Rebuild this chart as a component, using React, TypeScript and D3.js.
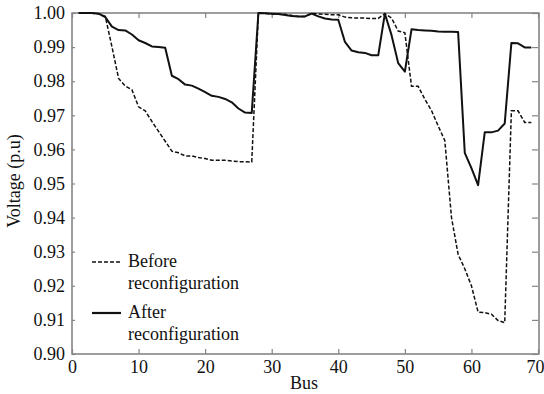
import React, { useEffect, useRef } from "react";
import * as d3 from "d3";

// bus numbers 1..69
const buses = d3.range(1, 70);

const before = [
  1.0, 1.0, 0.9999, 0.9998, 0.999, 0.9901, 0.9808, 0.9786, 0.9775, 0.9725,
  0.9713, 0.9682, 0.9653, 0.9624, 0.9595, 0.959, 0.9581, 0.9581, 0.9576, 0.9573,
  0.9568, 0.9568, 0.9568, 0.9566, 0.9564, 0.9564, 0.9563, 0.9999, 0.9999, 0.9997,
  0.9997, 0.9996, 0.9993, 0.999, 0.999, 0.9999, 0.9997, 0.9996, 0.9995, 0.9995,
  0.9988, 0.9986, 0.9985, 0.9985, 0.9984, 0.9984, 0.9998, 0.9985, 0.9947, 0.9942,
  0.9785, 0.9785, 0.9747, 0.9714, 0.9669, 0.9626, 0.9401, 0.9292, 0.925, 0.92,
  0.9123, 0.9121, 0.9117, 0.9098, 0.9092, 0.9713, 0.9713, 0.9679, 0.9679,
];

const after = [
  1.0, 1.0, 1.0, 0.9998, 0.9988, 0.996, 0.995, 0.9949, 0.9937, 0.992,
  0.9912, 0.9902, 0.99, 0.9898, 0.9816, 0.9806, 0.979, 0.9787, 0.9778, 0.9768,
  0.9757, 0.9754, 0.9748, 0.9738, 0.972, 0.9708, 0.9707, 1.0, 0.9999, 0.9998,
  0.9997, 0.9994, 0.9991, 0.999, 0.999, 0.9998, 0.999, 0.9984, 0.9981, 0.998,
  0.9915, 0.989, 0.9885, 0.9883, 0.9876, 0.9876, 0.9998, 0.9935, 0.9853, 0.9828,
  0.9952, 0.995, 0.9949, 0.9948, 0.9946, 0.9945, 0.9945, 0.9944, 0.959, 0.9545,
  0.9495, 0.965, 0.965, 0.9655, 0.9676, 0.9912, 0.9911, 0.9899, 0.9899,
];

const xTicks = [0, 10, 20, 30, 40, 50, 60, 70];
const yTicks = d3.range(0, 11).map((i) => +(0.9 + i * 0.01).toFixed(2));

const legendItems = [
  { label: ["Before", "reconfiguration"], dash: "4,2", width: 1.5 },
  { label: ["After", "reconfiguration"], dash: null, width: 2.2 },
];

const W = 544;
const H = 394;
const left = 72;
const right = 538;
const top = 13;
const bottom = 354;
const font = "Liberation Serif, Tinos, Times New Roman, DejaVu Serif, serif";
const frameColor = "#858585";

export default function App() {
  const svgRef = useRef<SVGSVGElement>(null);

  useEffect(() => {
    const svg = d3.select(svgRef.current);
    svg.selectAll("*").remove();

    const x = d3.scaleLinear().domain([0, 70]).range([left, right]);
    const y = d3.scaleLinear().domain([0.9, 1.0]).range([bottom, top]);

    const styleAxis = (g: any) => {
      g.attr("font-family", font).attr("font-size", 18);
      g.select(".domain").remove();
      g.selectAll(".tick line").attr("stroke", frameColor).attr("stroke-width", 1.2);
      g.selectAll(".tick text").attr("fill", "#111");
    };

    const xAxisG = svg
      .append("g")
      .attr("transform", `translate(0,${bottom})`)
      .call(d3.axisBottom(x).tickValues(xTicks).tickSizeInner(-5).tickSizeOuter(0).tickPadding(6))
      .call(styleAxis);
    // last label sits against the page edge, nudge it in
    xAxisG.selectAll(".tick text").filter((d: any) => d === 70).attr("dx", -3);

    svg
      .append("g")
      .attr("transform", `translate(0,${top})`)
      .call(d3.axisTop(x).tickValues(xTicks).tickSizeInner(-5).tickSizeOuter(0).tickFormat(() => ""))
      .call(styleAxis);

    svg
      .append("g")
      .attr("transform", `translate(${left},0)`)
      .call(
        d3.axisLeft(y).tickValues(yTicks).tickSizeInner(-3).tickSizeOuter(0).tickPadding(7)
          .tickFormat(d3.format(".2f"))
      )
      .call(styleAxis);

    svg
      .append("g")
      .attr("transform", `translate(${right},0)`)
      .call(d3.axisRight(y).tickValues(yTicks).tickSizeInner(-6).tickSizeOuter(0).tickFormat(() => ""))
      .call(styleAxis);

    svg
      .append("rect")
      .attr("x", left)
      .attr("y", top)
      .attr("width", right - left + 1)
      .attr("height", bottom - top)
      .attr("fill", "none")
      .attr("stroke", frameColor)
      .attr("stroke-width", 1.6);

    const line = d3
      .line<number>()
      .x((d, i) => x(buses[i]))
      .y((d) => y(d));

    svg
      .append("path")
      .attr("d", line(before))
      .attr("fill", "none")
      .attr("stroke", "#111")
      .attr("stroke-width", 1.5)
      .attr("stroke-dasharray", "4,2");

    svg
      .append("path")
      .attr("d", line(after))
      .attr("fill", "none")
      .attr("stroke", "#111")
      .attr("stroke-width", 2)
      .attr("stroke-linejoin", "round");

    // legend
    const lg = svg.append("g").attr("font-family", font).attr("font-size", 18);
    legendItems.forEach((item, i) => {
      const ly = 262 + i * 51;
      lg.append("line")
        .attr("x1", 92)
        .attr("x2", 121)
        .attr("y1", ly)
        .attr("y2", ly)
        .attr("stroke", "#111")
        .attr("stroke-width", item.width)
        .attr("stroke-dasharray", item.dash);
      item.label.forEach((t, j) => {
        lg.append("text")
          .attr("x", 128)
          .attr("y", ly + 5 + j * 22)
          .attr("fill", "#111")
          .text(t);
      });
    });

    svg
      .append("text")
      .attr("x", 304)
      .attr("y", 389)
      .attr("text-anchor", "middle")
      .attr("font-family", font)
      .attr("font-size", 18)
      .attr("fill", "#111")
      .text("Bus");

    svg
      .append("text")
      .attr("transform", `translate(20,181) rotate(-90)`)
      .attr("text-anchor", "middle")
      .attr("font-family", font)
      .attr("font-size", 18)
      .attr("fill", "#111")
      .text("Voltage (p.u)");
  }, []);

  return (
    <div style={{ position: "absolute", left: 0, top: 0 }}>
      <svg ref={svgRef} width={W} height={H} style={{ display: "block", background: "#fff" }} />
    </div>
  );
}
